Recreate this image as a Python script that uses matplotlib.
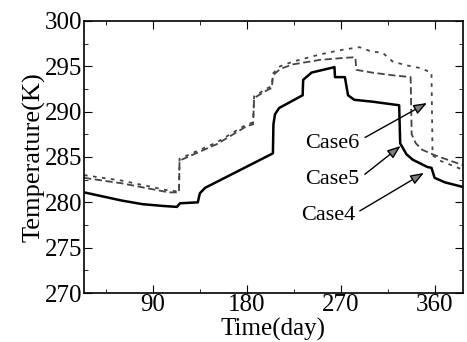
import numpy as np
import matplotlib.pyplot as plt
from matplotlib.ticker import MultipleLocator

plt.rcParams['font.family'] = ['Liberation Serif', 'DejaVu Serif']

# Case4 (solid)
day4 = [24, 40, 60, 80, 100, 113, 116, 133, 135, 140, 205, 205.5, 207, 211, 233.5, 234,
        242, 264, 264.5, 274, 277, 283, 300, 326, 327, 333, 339, 353, 357, 360, 370, 387]
temp4 = [281.1, 280.7, 280.2, 279.8, 279.6, 279.5, 279.9, 280.0, 281.0, 281.6, 285.4, 288.6,
         289.7, 290.4, 291.8, 293.5, 294.3, 294.9, 293.8, 293.8, 291.8, 291.3, 291.1, 290.7,
         286.5, 285.3, 284.7, 283.9, 283.8, 282.7, 282.2, 281.7]

# Case5 (inner dashed)
day5 = [24, 60, 105, 115, 115.5, 151, 180, 186, 187, 200, 204, 205, 212, 224, 250, 271,
        284, 285, 300, 320, 337, 338, 342, 348, 360, 387]
temp5 = [282.7, 282.1, 281.1, 281.1, 284.6, 286.4, 288.4, 288.6, 291.5, 292.4, 292.6, 294.0,
         294.7, 295.2, 295.7, 295.9, 296.0, 294.6, 294.3, 294.0, 293.8, 287.5, 286.5, 285.8,
         285.2, 284.1]

# Case6 (outer dashed)
day6 = [24, 60, 105, 115, 115.5, 151, 180, 186, 187, 200, 204, 205, 212, 224, 250, 271,
        288, 300, 310, 320, 333, 346, 357, 358, 365, 387]
temp6 = [283.0, 282.4, 281.3, 281.2, 284.8, 286.6, 288.6, 288.8, 291.7, 292.6, 292.8, 294.2,
         295.0, 295.5, 296.3, 296.8, 297.1, 296.6, 296.5, 295.5, 295.1, 294.8, 294.3, 285.2,
         284.6, 283.6]

labels = ['Case6', 'Case5', 'Case4']
label_pos = [(262, 286.5), (261.5, 282.5), (258, 278.6)]
arrow_tail = [(291, 287.0), (291, 282.9), (286, 278.9)]
arrow_tip = [(355, 291.1), (329.5, 286.4), (352, 283.4)]

fig = plt.figure(figsize=(4.67, 3.42), dpi=100)
ax = fig.add_axes([0.18, 0.143, 0.811, 0.796])

ax.plot(day4, temp4, color='black', lw=1.8)
ax.plot(day5, temp5, color='#444444', lw=1.3, linestyle=(0, (4, 2)))
ax.plot(day6, temp6, color='#444444', lw=1.3, linestyle=(0, (2, 3)))

for lab, pos, tail, tip in zip(labels, label_pos, arrow_tail, arrow_tip):
    ax.text(pos[0], pos[1], lab, fontsize=16, ha='center', va='center')
    ax.annotate('', xy=tip, xytext=tail,
                arrowprops=dict(arrowstyle='-|>,head_length=0.8,head_width=0.3',
                                fc='gray', ec='black', lw=1))

ax.set_xlim(24, 387)
ax.set_ylim(270, 300)
ax.set_xticks([90, 180, 270, 360])
ax.set_yticks([270, 275, 280, 285, 290, 295, 300])
ax.xaxis.set_minor_locator(MultipleLocator(45))
ax.yaxis.set_minor_locator(MultipleLocator(2.5))
ax.tick_params(which='both', direction='in', top=True, right=True, labelsize=18, pad=1)
ax.tick_params(which='major', length=6)
ax.tick_params(which='minor', length=3)
ax.set_xlabel('Time(day)', fontsize=18, labelpad=1)
ax.set_ylabel('Temperature(K)', fontsize=19, labelpad=0)
for s in ax.spines.values():
    s.set_linewidth(1.2)

fig.savefig('out.png', dpi=100)
